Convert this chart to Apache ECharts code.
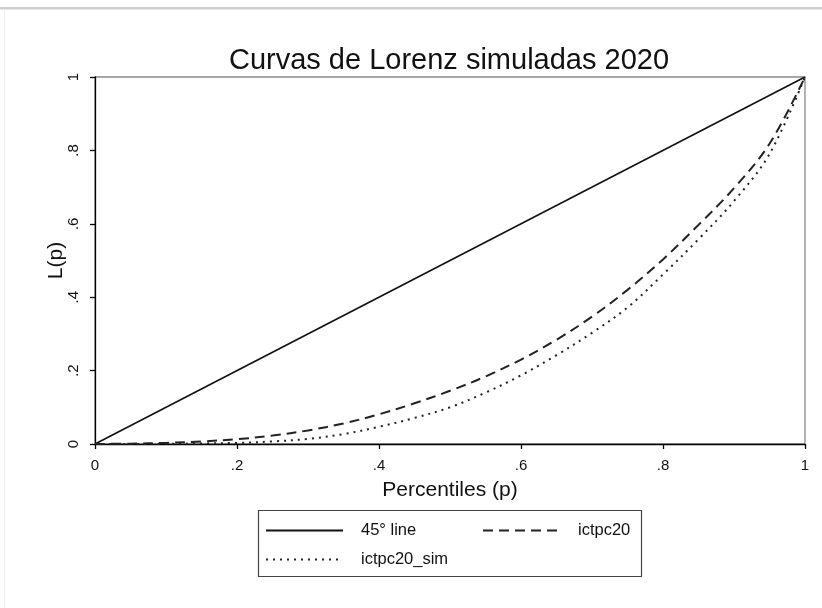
<!DOCTYPE html>
<html>
<head>
<meta charset="utf-8">
<script src="https://cdn.jsdelivr.net/npm/echarts@6/dist/echarts.min.js"></script>
<style>
  html, body { margin: 0; padding: 0; background: #fff; }
  #chart { width: 822px; height: 608px; }
</style>
</head>
<body>
<div id="chart"></div>
<script>
// Population percentiles (p) at which the Lorenz curves are sampled
const percentiles = [0, 0.05, 0.10, 0.15, 0.20, 0.25, 0.30, 0.35, 0.40, 0.45, 0.50,
                     0.55, 0.60, 0.65, 0.70, 0.75, 0.80, 0.85, 0.90, 0.95, 1.00];
// Cumulative income share L(p), observed per-capita income 2020
const ictpc20 = [0, 0.001, 0.003, 0.007, 0.013, 0.023, 0.037, 0.056, 0.081, 0.111, 0.145,
                 0.184, 0.230, 0.284, 0.347, 0.420, 0.503, 0.597, 0.697, 0.818, 1.000];
// Cumulative income share L(p), simulated per-capita income 2020
const ictpc20_sim = [0, 0.000, 0.0005, 0.0015, 0.003, 0.007, 0.014, 0.027, 0.047, 0.071, 0.100,
                     0.140, 0.187, 0.242, 0.303, 0.372, 0.462, 0.558, 0.662, 0.790, 1.000];
// Equality line end points
const equality = [[0, 0], [1, 1]];
// Axis tick values and their labels
const tickValues = [0, 0.2, 0.4, 0.6, 0.8, 1];
const tickLabels = ['0', '.2', '.4', '.6', '.8', '1'];
const seriesNames = ['45° line', 'ictpc20', 'ictpc20_sim'];

const pair = (ys) => percentiles.map((p, i) => [p, ys[i]]);
const labelFor = (v) => {
  const i = tickValues.findIndex(t => Math.abs(t - v) < 1e-9);
  return i >= 0 ? tickLabels[i] : '';
};

const FONT = 'Liberation Sans, Arial, sans-serif';
const chart = echarts.init(document.getElementById('chart'), null, { renderer: 'canvas' });

const axisCommon = {
  type: 'value', min: 0, max: 1, interval: 0.2,
  axisLine: { show: true, lineStyle: { color: '#000', width: 1.3 } },
  axisTick: { show: true, length: 5, lineStyle: { color: '#000', width: 1.3 } },
  splitLine: { show: false },
  nameLocation: 'middle',
  nameTextStyle: { fontFamily: FONT, fontSize: 21, color: '#111' }
};

const legendCommon = {
  itemWidth: 77, itemHeight: 14,
  itemStyle: { opacity: 0 },
  textStyle: { fontFamily: FONT, fontSize: 16.5, color: '#111', padding: [0, 0, 0, 13] },
  selectedMode: false
};

chart.setOption({
  animation: false,
  backgroundColor: '#fff',
  title: {
    text: 'Curvas de Lorenz simuladas 2020',
    left: 444, top: 41, textAlign: 'center',
    textStyle: { fontFamily: FONT, fontSize: 29, fontWeight: 'normal', color: '#111' }
  },
  grid: {
    left: 95, right: 17, top: 77, bottom: 164,
    show: true, borderColor: '#8a8a8a', borderWidth: 1.3, backgroundColor: '#fff'
  },
  xAxis: Object.assign({}, axisCommon, {
    name: 'Percentiles (p)', nameGap: 36,
    axisLabel: { fontFamily: FONT, fontSize: 15, color: '#111', margin: 14, formatter: labelFor }
  }),
  yAxis: Object.assign({}, axisCommon, {
    name: 'L(p)', nameGap: 28, nameMoveOverlap: false,
    axisLabel: { fontFamily: FONT, fontSize: 15, color: '#111', margin: 14, rotate: 90, formatter: labelFor }
  }),
  legend: [
    Object.assign({ data: [seriesNames[0]], left: 260, top: 517 }, legendCommon),
    Object.assign({ data: [seriesNames[1]], left: 477, top: 517 }, legendCommon),
    Object.assign({ data: [seriesNames[2]], left: 260, top: 546 }, legendCommon)
  ],
  graphic: [
    { type: 'rect', shape: { x: 0, y: 7, width: 822, height: 2.5 }, style: { fill: '#cfcfcf' }, silent: true },
    { type: 'rect', shape: { x: 4, y: 10, width: 1, height: 598 }, style: { fill: '#eeeeee' }, silent: true },
    { type: 'rect', shape: { x: 258.5, y: 510.5, width: 383, height: 66 },
      style: { fill: 'none', stroke: '#444', lineWidth: 1.2 }, silent: true, z: 10 }
  ],
  series: [
    {
      name: seriesNames[0], type: 'line', data: equality, symbol: 'none',
      lineStyle: { color: '#111', width: 1.6, type: 'solid' }, itemStyle: { color: '#111' }
    },
    {
      name: seriesNames[1], type: 'line', data: pair(ictpc20), symbol: 'none', smooth: 0.35,
      lineStyle: { color: '#222', width: 2, type: [10, 6] }, itemStyle: { color: '#222' }
    },
    {
      name: seriesNames[2], type: 'line', data: pair(ictpc20_sim), symbol: 'none', smooth: 0.35,
      lineStyle: { color: '#222', width: 2, type: [2, 5] }, itemStyle: { color: '#222' }
    }
  ]
});
</script>
</body>
</html>
